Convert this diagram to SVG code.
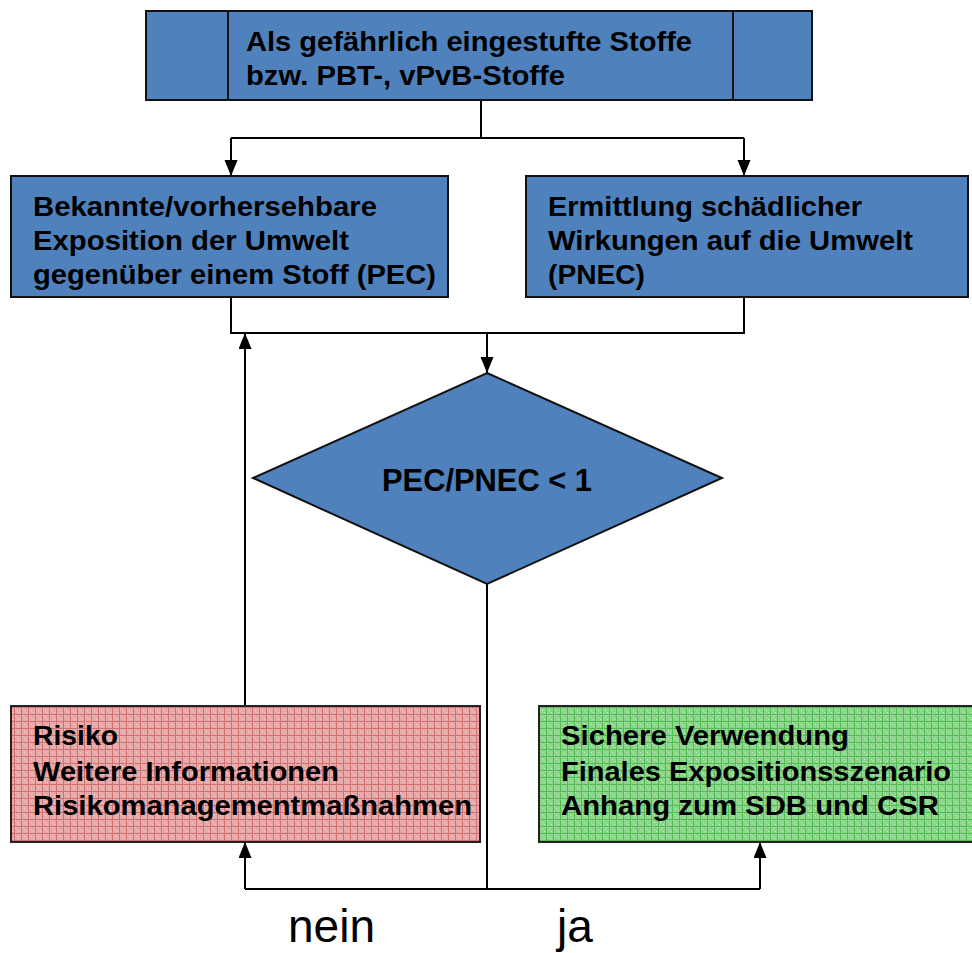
<svg xmlns="http://www.w3.org/2000/svg" width="972" height="953" viewBox="0 0 972 953">
<style>
.box{fill:#4F81BD;stroke:#111;stroke-width:2}
.t{font-family:"Liberation Sans",Arial,sans-serif;font-weight:bold;font-size:27px;fill:#000}
.lbl{font-family:"Liberation Sans",Arial,sans-serif;font-size:46px;fill:#000}
.c{fill:none;stroke:#000;stroke-width:2}
</style>
<defs>
<marker id="ah" markerUnits="userSpaceOnUse" markerWidth="16" markerHeight="14" refX="16" refY="6.5" orient="auto">
<path d="M0,0 L16,6.5 L0,13 Z" fill="#000"/>
</marker>
<pattern id="pr" width="7" height="7" patternUnits="userSpaceOnUse">
<rect width="7" height="7" fill="#E6A8A8"/>
<rect x="1" y="1" width="1" height="1" fill="#F2CCCC"/><rect x="3" y="3" width="1" height="1" fill="#F2CCCC"/><rect x="5" y="5" width="1" height="1" fill="#F2CCCC"/>
<path d="M0 0.5H7M0.5 0V7" stroke="#C85A5A" stroke-width="1" opacity="0.7"/>
</pattern>
<pattern id="pg" width="7" height="7" patternUnits="userSpaceOnUse">
<rect width="7" height="7" fill="#8CD68C"/>
<rect x="1" y="1" width="1" height="1" fill="#BFEBBF"/><rect x="3" y="3" width="1" height="1" fill="#BFEBBF"/><rect x="5" y="5" width="1" height="1" fill="#BFEBBF"/>
<path d="M0 0.5H7M0.5 0V7" stroke="#3DAF3D" stroke-width="1" opacity="0.7"/>
</pattern>
</defs>
<rect width="972" height="953" fill="#fff"/>

<g id="connectors">
<path class="c" d="M481,100 V138"/>
<path class="c" d="M231,138 H744"/>
<path class="c" d="M231,138 V176" marker-end="url(#ah)"/>
<path class="c" d="M744,138 V176" marker-end="url(#ah)"/>
<path class="c" d="M231,297 V333 H744 V297"/>
<path class="c" d="M487,333 V373" marker-end="url(#ah)"/>
<path class="c" d="M245,706 V333" marker-end="url(#ah)"/>
<path class="c" d="M487,584 V889"/>
<path class="c" d="M245,889 H760"/>
<path class="c" d="M245,889 V842" marker-end="url(#ah)"/>
<path class="c" d="M760,889 V842" marker-end="url(#ah)"/>
</g>

<g id="n-top">
<rect class="box" x="146" y="11" width="666" height="89"/>
<path d="M228,11 V100 M733,11 V100" stroke="#111" stroke-width="2"/>
<text class="t" x="246" y="51" textLength="446" lengthAdjust="spacingAndGlyphs">Als gefährlich eingestufte Stoffe</text>
<text class="t" x="246" y="85" textLength="319" lengthAdjust="spacingAndGlyphs">bzw. PBT-, vPvB-Stoffe</text>
</g>

<g id="n-pec">
<rect class="box" x="11" y="176" width="437" height="121"/>
<text class="t" x="33" y="216" textLength="344" lengthAdjust="spacingAndGlyphs">Bekannte/vorhersehbare</text>
<text class="t" x="33" y="250" textLength="316" lengthAdjust="spacingAndGlyphs">Exposition der Umwelt</text>
<text class="t" x="33" y="284" textLength="403" lengthAdjust="spacingAndGlyphs">gegenüber einem Stoff (PEC)</text>
</g>

<g id="n-pnec">
<rect class="box" x="526" y="176" width="442" height="121"/>
<text class="t" x="548" y="216" textLength="314" lengthAdjust="spacingAndGlyphs">Ermittlung schädlicher</text>
<text class="t" x="548" y="250" textLength="365" lengthAdjust="spacingAndGlyphs">Wirkungen auf die Umwelt</text>
<text class="t" x="548" y="284" textLength="97" lengthAdjust="spacingAndGlyphs">(PNEC)</text>
</g>

<g id="n-decision">
<polygon class="box" points="487,373 722,478 487,584 253,478"/>
<text class="t" x="382" y="491" style="font-size:31px" textLength="210" lengthAdjust="spacingAndGlyphs">PEC/PNEC &lt; 1</text>
</g>

<g id="n-risk">
<rect x="11" y="706" width="469" height="136" fill="url(#pr)" stroke="#222" stroke-width="2"/>
<text class="t" x="33" y="745" textLength="85" lengthAdjust="spacingAndGlyphs">Risiko</text>
<text class="t" x="33" y="781" textLength="306" lengthAdjust="spacingAndGlyphs">Weitere Informationen</text>
<text class="t" x="33" y="815" textLength="439" lengthAdjust="spacingAndGlyphs">Risikomanagementmaßnahmen</text>
</g>

<g id="n-safe">
<rect x="539" y="706" width="445" height="136" fill="url(#pg)" stroke="#222" stroke-width="2"/>
<text class="t" x="561" y="745" textLength="288" lengthAdjust="spacingAndGlyphs">Sichere Verwendung</text>
<text class="t" x="561" y="781" textLength="390" lengthAdjust="spacingAndGlyphs">Finales Expositionsszenario</text>
<text class="t" x="561" y="815" textLength="378" lengthAdjust="spacingAndGlyphs">Anhang zum SDB und CSR</text>
</g>

<g id="labels">
<text class="lbl" x="288" y="942">nein</text>
<text class="lbl" x="557" y="942">ja</text>
</g>
</svg>
